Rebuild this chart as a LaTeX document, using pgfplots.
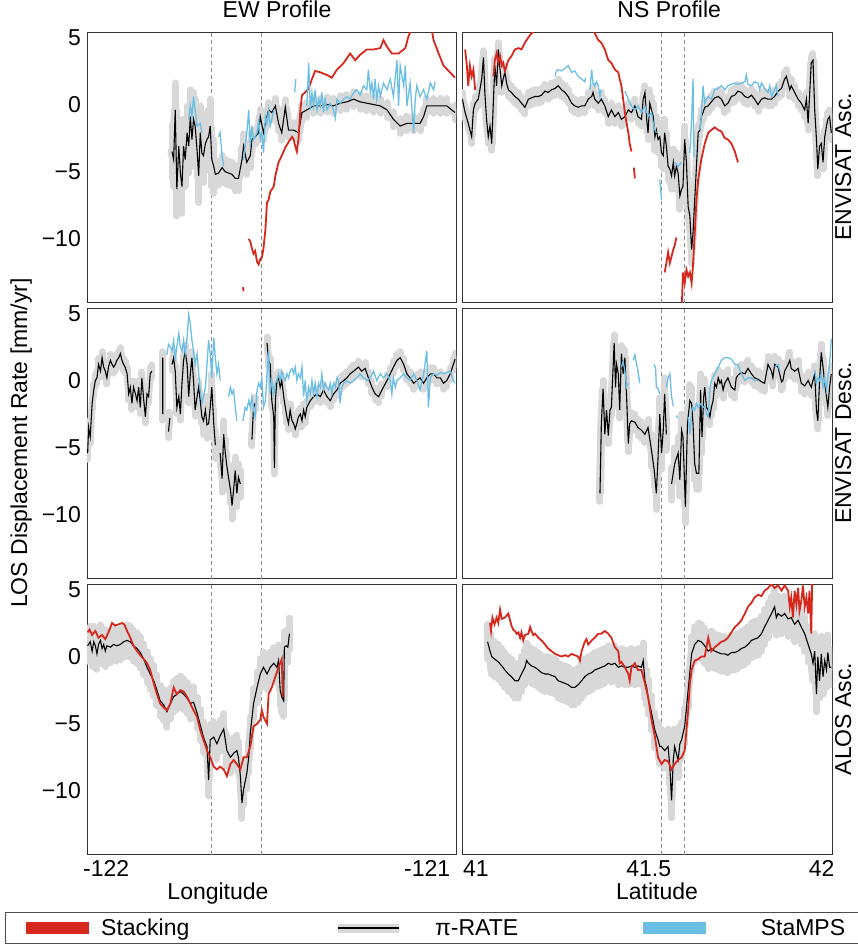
\documentclass[border=0pt]{standalone}
\usepackage{fontspec}
\setmainfont{Liberation Sans}
\usepackage{pgfplots}
\usepackage{pgfplotstable}
\pgfplotsset{compat=1.18}

\definecolor{stackred}{HTML}{D7281E}
\definecolor{stampsblue}{HTML}{6CBFE4}
\definecolor{bandgray}{HTML}{D8D8D8}
\definecolor{dashgray}{HTML}{8C8C8C}
\newcommand\figfont{\fontsize{23}{27}\selectfont}

% ---------- EW profile, ENVISAT ascending ----------
\pgfplotstableread{
x y
-121.795 -3.5
-121.790 -4.1
-121.785 -0.4
-121.780 -6.3
-121.774 -3.1
-121.769 -5.1
-121.764 -6.1
-121.759 -3.1
-121.754 -4.1
-121.748 -2.1
-121.743 -3.1
-121.738 -0.9
-121.733 -2.6
-121.728 -1.1
-121.723 -1.6
-121.717 -3.4
-121.712 -5.3
-121.707 -2.1
-121.702 -3.6
-121.697 -3.8
-121.691 -2.9
-121.686 -2.6
-121.681 -2.4
-121.676 -1.6
-121.671 -4.1
-121.665 -4.6
-121.660 -5.2
-121.650 -5.1
-121.639 -4.7
-121.629 -5.0
-121.619 -5.1
-121.608 -5.2
-121.598 -5.5
-121.588 -5.5
-121.577 -4.1
-121.572 -3.1
-121.562 -4.3
-121.551 -3.8
-121.546 -2.6
-121.536 -2.4
-121.525 -2.1
-121.520 -0.9
-121.510 -2.1
-121.499 -0.9
-121.494 -0.4
-121.484 -0.6
-121.473 -0.1
-121.463 -1.4
-121.453 -2.1
-121.442 -0.2
-121.432 -1.9
-121.416 -1.9
-121.401 -2.1
-121.390 -0.6
-121.375 -0.4
-121.354 -0.1
-121.333 -0.1
-121.312 0.0
-121.292 -0.1
-121.271 0.1
-121.250 0.2
-121.229 0.4
-121.209 0.2
-121.188 0.1
-121.167 0.0
-121.146 -0.1
-121.125 -0.4
-121.105 -1.1
-121.084 -1.6
-121.063 -1.4
-121.042 -1.4
-121.022 -1.4
-121.011 -0.9
-121.001 -0.1
-120.980 -0.1
-120.959 -0.1
-120.939 -0.1
-120.913 -0.6
}\ewascpi

\pgfplotstableread{
x y
-121.574 -13.6
-121.572 -13.9
nan nan
-121.556 -10.0
-121.551 -10.2
-121.546 -10.7
-121.541 -11.1
-121.536 -10.9
-121.530 -11.7
-121.525 -11.9
-121.520 -11.5
-121.515 -11.4
-121.510 -10.7
-121.504 -9.3
-121.499 -7.3
-121.494 -7.1
-121.489 -6.5
-121.478 -6.1
-121.473 -5.3
-121.468 -4.8
-121.463 -4.3
-121.453 -3.8
-121.442 -3.2
-121.432 -2.8
-121.421 -2.4
-121.416 -2.6
-121.411 -3.1
-121.406 -3.5
-121.401 -2.6
-121.395 -0.4
-121.390 0.7
-121.380 0.9
-121.369 1.2
-121.359 1.9
-121.349 2.5
-121.333 2.4
-121.312 2.2
-121.297 2.0
-121.281 2.6
-121.260 3.1
-121.240 3.8
-121.224 3.3
-121.209 3.7
-121.188 4.1
-121.167 4.1
-121.146 4.2
-121.136 4.8
-121.125 4.3
-121.110 3.8
-121.089 3.8
-121.068 4.2
-121.058 5.1
-121.048 5.6
-121.030 6.5
-121.000 6.5
-120.985 5.5
-120.980 4.8
-120.964 3.8
-120.949 2.9
-120.933 2.5
-120.913 2.0
}\ewascstack

\pgfplotstableread{
x y
-121.743 -1.1
-121.738 -0.1
-121.733 -0.9
-121.728 0.6
-121.723 -0.4
-121.717 -1.6
-121.707 -1.4
-121.702 -2.1
nan nan
-121.650 -2.4
-121.645 -2.1
-121.639 -3.8
-121.634 -4.6
nan nan
-121.572 -4.1
-121.562 -2.1
-121.556 -0.4
-121.551 -3.1
-121.546 -1.6
-121.541 -2.6
-121.530 -2.1
-121.525 -1.1
-121.520 -2.6
-121.515 -2.1
-121.510 -3.6
-121.504 -0.9
-121.499 -1.4
-121.494 -0.4
-121.489 -1.6
-121.484 -1.1
-121.478 -0.4
nan nan
-121.413 0.9
-121.409 1.9
nan nan
-121.375 -0.1
-121.369 3.1
-121.364 -0.4
-121.359 0.9
-121.354 -0.1
-121.349 1.1
-121.343 -0.4
-121.338 0.4
-121.333 -0.1
-121.328 0.9
-121.323 -0.6
-121.318 0.4
-121.312 -0.4
-121.302 0.1
-121.292 -0.4
-121.286 -1.0
-121.281 0.4
-121.271 0.1
-121.260 0.4
-121.250 0.6
-121.240 0.4
-121.229 0.9
-121.219 1.1
-121.209 0.7
-121.198 1.4
-121.188 1.1
-121.183 2.6
-121.177 0.9
-121.172 1.6
-121.167 0.4
-121.162 1.9
-121.157 0.4
-121.151 1.4
-121.146 0.6
-121.136 1.6
-121.125 1.1
-121.115 1.9
-121.105 0.6
-121.094 3.3
-121.089 -0.1
-121.084 2.9
-121.073 1.4
-121.068 2.9
-121.063 -0.1
-121.053 1.6
-121.048 -0.1
-121.042 -2.1
-121.037 0.4
-121.032 1.4
-121.022 0.6
-121.011 1.1
-121.001 0.4
-120.990 1.6
-120.980 1.1
-120.975 1.7
}\ewascstamps

% ---------- EW profile, ENVISAT descending ----------
\pgfplotstableread{
x y
-122.058 -5.4
-122.055 -3.5
-122.050 -4.2
-122.044 -1.7
-122.039 -0.7
-122.034 0.0
-122.029 0.2
-122.024 1.2
-122.018 0.7
-122.013 1.7
-122.008 1.0
-122.003 0.7
-121.998 0.2
-121.993 1.0
-121.987 1.5
-121.982 1.2
-121.977 1.0
-121.972 1.2
-121.967 1.5
-121.961 1.7
-121.956 2.0
-121.951 1.5
-121.946 1.2
-121.941 1.0
-121.935 0.5
-121.930 -1.0
-121.925 -0.5
-121.920 -1.7
-121.915 -0.5
-121.909 -1.0
-121.904 -1.5
-121.899 -0.5
-121.894 -2.0
-121.889 0.2
-121.883 -1.5
-121.878 -2.7
-121.873 -1.0
-121.868 -1.2
-121.863 0.5
-121.858 0.7
nan nan
-121.824 1.7
-121.824 -2.5
nan nan
-121.806 -3.8
-121.802 -2.8
nan nan
-121.795 1.2
-121.790 1.7
-121.785 0.7
-121.780 -2.0
-121.774 -1.2
-121.769 -2.5
-121.764 -0.2
-121.759 1.5
-121.754 2.2
-121.748 1.2
-121.743 -1.2
-121.738 0.5
-121.733 1.7
-121.728 0.0
-121.723 -2.2
-121.717 -1.2
-121.712 -0.5
-121.707 -1.5
-121.702 -2.7
-121.697 -3.0
-121.691 -2.2
-121.686 -3.3
-121.681 -3.2
-121.676 -2.0
-121.671 -0.5
-121.665 -3.2
-121.660 -4.8
nan nan
-121.645 -5.4
-121.639 -7.3
-121.634 -4.0
-121.629 -5.4
-121.624 -6.4
-121.619 -7.2
-121.613 -8.1
-121.608 -9.3
-121.603 -8.1
-121.598 -6.7
-121.593 -8.4
-121.588 -7.2
-121.582 -7.7
nan nan
-121.546 -4.4
-121.541 -2.0
-121.536 -1.7
nan nan
-121.499 2.8
-121.494 1.5
-121.489 1.2
-121.484 -1.5
-121.478 -2.7
-121.476 -6.5
-121.473 -1.5
-121.468 0.0
-121.463 0.2
-121.458 -0.5
-121.453 0.0
-121.447 -1.2
-121.442 -2.0
-121.437 -2.7
-121.432 -3.2
-121.427 -2.2
-121.421 -3.0
-121.416 -3.2
-121.411 -3.6
-121.406 -3.2
-121.401 -2.7
-121.395 -2.5
-121.390 -3.0
-121.385 -2.2
-121.380 -2.7
-121.375 -2.0
-121.364 -1.5
-121.354 -1.2
-121.343 -1.0
-121.333 -1.2
-121.323 -0.7
-121.312 -1.2
-121.302 -1.5
-121.292 -1.0
-121.281 -0.7
-121.271 -0.2
-121.260 0.0
-121.250 0.2
-121.240 0.5
-121.229 0.7
-121.214 1.0
-121.204 0.7
-121.193 0.9
-121.183 0.2
-121.172 -0.5
-121.162 -1.0
-121.151 -1.2
-121.141 -0.7
-121.125 0.0
-121.115 0.5
-121.105 1.0
-121.094 1.5
-121.084 1.7
-121.073 1.2
-121.063 0.5
-121.053 0.2
-121.042 -0.2
-121.032 0.0
-121.022 0.2
-121.011 -0.2
-121.001 0.2
-120.990 0.5
-120.980 0.5
-120.970 0.2
-120.959 0.2
-120.949 -0.2
-120.939 0.0
-120.928 0.5
-120.918 1.2
-120.913 1.6
}\ewdescpi

\pgfplotstableread{
x y
-121.811 1.9
-121.806 2.7
-121.800 2.5
-121.795 2.2
-121.790 3.0
-121.785 1.7
-121.780 2.5
-121.774 3.5
-121.769 2.5
-121.764 2.2
-121.759 3.0
-121.754 2.0
-121.748 3.2
-121.743 4.9
-121.738 4.2
-121.733 3.0
-121.728 2.2
-121.723 1.2
-121.717 2.0
-121.712 0.5
-121.707 -0.7
-121.702 -1.7
-121.697 -1.2
-121.691 -0.5
-121.686 1.2
-121.681 3.0
-121.676 2.0
-121.671 0.2
-121.665 3.2
-121.660 1.7
-121.655 0.5
-121.650 1.2
-121.645 0.0
nan nan
-121.619 -1.2
-121.613 -0.5
-121.608 -1.0
-121.603 -0.7
-121.598 -2.0
-121.593 -3.0
nan nan
-121.574 -3.0
-121.567 -2.0
-121.562 -2.2
-121.556 -1.5
-121.551 -2.0
-121.546 -1.2
-121.541 -2.2
-121.536 -2.7
-121.530 -0.7
-121.525 -0.2
-121.520 -0.5
-121.515 0.2
-121.510 -2.0
-121.504 -1.5
-121.499 0.5
-121.494 2.2
-121.489 -1.0
-121.484 0.0
-121.478 -1.0
-121.473 -0.2
-121.468 0.0
-121.463 0.5
-121.458 0.0
-121.453 0.7
-121.447 0.2
-121.442 0.0
-121.437 0.5
-121.432 0.2
-121.427 0.7
-121.421 0.9
-121.416 0.5
-121.411 1.0
-121.406 0.0
-121.401 0.5
-121.395 0.2
-121.390 1.0
-121.385 -1.2
-121.380 0.0
-121.375 -1.5
-121.369 -0.5
-121.364 -1.0
-121.359 0.0
-121.354 -1.0
-121.349 -0.2
-121.343 -1.2
-121.338 -0.2
-121.333 -0.5
-121.328 0.5
-121.323 -0.7
-121.318 -0.2
-121.312 -0.5
-121.307 -0.7
-121.302 -0.2
-121.297 -1.0
-121.292 -0.2
-121.286 -0.5
-121.281 0.2
-121.276 0.0
-121.271 -1.7
-121.266 -0.5
-121.260 -0.2
-121.250 0.0
-121.240 -0.2
-121.229 0.0
-121.219 0.2
-121.209 0.5
-121.198 0.2
-121.188 0.0
-121.177 0.2
-121.167 0.7
-121.157 0.0
-121.146 0.5
-121.136 0.2
-121.125 0.5
-121.115 0.0
-121.110 -1.0
-121.105 0.2
-121.099 -0.5
-121.094 0.0
-121.084 0.2
-121.073 0.5
-121.063 0.2
-121.053 0.0
-121.042 0.5
-121.032 0.0
-121.022 -0.7
-121.011 0.5
-121.001 2.2
-120.996 -2.0
-120.990 0.2
-120.980 0.5
-120.970 0.4
-120.959 0.6
-120.949 0.5
-120.939 0.6
-120.928 0.7
-120.918 0.0
-120.913 -0.2
}\ewdescstamps

% ---------- EW profile, ALOS ascending ----------
\pgfplotstableread{
x y
-122.058 0.8
-122.050 1.1
-122.044 0.4
-122.039 1.1
-122.034 0.8
-122.029 0.2
-122.024 0.9
-122.018 1.2
-122.013 0.6
-122.008 0.9
-122.003 0.4
-121.998 0.8
-121.987 0.7
-121.977 0.9
-121.967 0.8
-121.956 0.9
-121.946 1.1
-121.935 1.2
-121.925 1.1
-121.915 0.8
-121.904 0.6
-121.894 0.3
-121.883 -0.2
-121.873 -0.8
-121.863 -1.3
-121.852 -1.8
-121.842 -2.5
-121.832 -3.3
-121.821 -3.6
-121.811 -4.1
-121.800 -3.5
-121.790 -3.0
-121.780 -2.8
-121.769 -2.6
-121.759 -2.8
-121.748 -3.1
-121.738 -3.5
-121.728 -3.4
-121.717 -4.2
-121.707 -5.1
-121.697 -6.0
-121.686 -6.7
-121.681 -9.2
-121.676 -6.2
-121.665 -6.0
-121.655 -6.5
-121.645 -5.9
-121.634 -5.4
-121.624 -7.0
-121.613 -7.5
-121.603 -7.2
-121.593 -7.0
-121.588 -7.5
-121.582 -8.9
-121.577 -10.9
-121.572 -9.9
-121.562 -8.7
-121.556 -7.5
-121.551 -5.7
-121.541 -3.5
-121.530 -2.3
-121.520 -1.3
-121.510 -0.8
-121.499 -1.3
-121.489 -0.8
-121.478 -0.5
-121.468 -0.8
-121.463 -0.3
-121.458 -2.5
-121.453 -3.0
-121.447 -3.3
-121.445 0.7
-121.439 0.8
-121.434 0.7
-121.429 1.7
}\ewalospi

\pgfplotstableread{
x y
-122.058 1.8
-122.052 2.0
-122.044 1.6
-122.034 1.9
-122.024 1.4
-122.013 1.6
-122.003 1.3
-121.993 1.8
-121.982 2.5
-121.972 2.3
-121.961 2.4
-121.951 2.5
-121.944 2.4
-121.935 1.9
-121.925 1.4
-121.915 0.8
-121.904 0.4
-121.894 0.1
-121.883 -0.2
-121.873 -0.5
-121.863 -1.0
-121.852 -2.0
-121.842 -2.8
-121.832 -3.5
-121.821 -3.8
-121.811 -4.0
-121.800 -3.5
-121.790 -2.3
-121.780 -2.8
-121.769 -2.5
-121.759 -2.6
-121.748 -3.0
-121.738 -3.5
-121.728 -4.0
-121.717 -4.5
-121.707 -5.5
-121.697 -6.2
-121.686 -7.0
-121.676 -7.5
-121.665 -8.2
-121.655 -8.4
-121.645 -8.2
-121.634 -8.4
-121.624 -8.9
-121.613 -8.0
-121.603 -7.7
-121.593 -8.0
-121.582 -8.4
-121.572 -7.5
-121.562 -7.5
-121.551 -6.7
-121.541 -5.2
-121.530 -5.0
-121.520 -4.7
-121.515 -4.0
-121.510 -4.5
-121.499 -5.0
-121.494 -2.8
-121.484 -2.3
-121.473 -1.5
-121.463 -0.8
-121.453 -0.2
-121.450 -3.0
}\ewalosstack

% ---------- NS profile, ENVISAT ascending ----------
\pgfplotstableread{
x y
40.961 0.4
40.969 -0.6
40.978 -1.4
40.988 -2.4
40.993 -0.4
40.998 0.1
41.007 0.4
41.017 1.9
41.022 3.5
41.026 0.9
41.031 -1.1
41.036 -2.4
41.041 -1.6
41.046 -2.9
41.051 0.4
41.055 2.9
41.060 1.4
41.065 4.1
41.070 2.6
41.075 1.4
41.079 1.9
41.084 2.4
41.089 1.6
41.094 1.1
41.103 0.9
41.113 0.6
41.123 0.4
41.132 0.1
41.142 -0.2
41.152 0.4
41.161 0.5
41.171 0.6
41.181 0.6
41.190 0.7
41.200 1.0
41.209 0.9
41.219 1.1
41.229 1.2
41.238 1.4
41.248 1.1
41.258 0.9
41.267 0.6
41.277 0.1
41.286 -0.1
41.296 -0.2
41.306 -0.1
41.315 -0.1
41.325 0.4
41.335 0.6
41.339 0.9
41.344 0.4
41.354 0.1
41.363 0.4
41.373 -0.1
41.383 -0.9
41.392 -0.4
41.402 -0.9
41.412 -0.6
41.421 -1.1
41.431 -0.9
41.441 -0.4
41.450 -0.6
41.460 -0.1
41.469 -0.9
41.479 -1.1
41.484 0.4
41.489 0.9
41.494 -1.1
41.498 -2.1
41.503 0.1
41.508 -0.4
41.513 -0.9
41.518 -2.4
41.522 -1.9
41.527 -2.6
41.532 -2.4
41.537 -3.6
41.542 -3.8
41.546 -2.1
41.551 -3.1
41.556 -4.6
41.561 -4.8
41.566 -5.3
41.571 -4.3
41.575 -5.3
41.580 -4.6
41.585 -5.1
41.590 -6.8
41.595 -6.3
41.599 -6.1
41.604 -2.6
41.609 -4.3
41.614 -7.6
41.619 -8.3
41.624 -10.8
41.628 -9.6
41.633 -7.1
41.638 -4.6
41.643 -2.1
41.648 -1.9
41.652 -0.9
41.657 -0.6
41.662 -0.2
41.672 -0.1
41.681 0.2
41.691 0.5
41.701 0.6
41.710 0.4
41.720 -0.1
41.729 0.1
41.739 0.6
41.749 0.7
41.758 1.0
41.768 0.9
41.778 0.6
41.787 0.5
41.797 0.7
41.806 0.4
41.816 0.0
41.826 0.4
41.835 0.5
41.845 0.4
41.855 0.4
41.864 0.6
41.874 1.0
41.884 1.2
41.893 1.9
41.898 2.1
41.903 1.6
41.908 1.1
41.912 1.4
41.922 0.9
41.932 0.4
41.941 0.1
41.951 -0.4
41.956 0.4
41.961 -1.4
41.965 0.6
41.970 3.1
41.975 3.3
41.980 -0.4
41.985 -2.6
41.989 -4.8
41.994 -3.1
41.999 -2.9
42.004 -4.3
42.009 -2.4
42.014 -1.6
42.018 -1.1
42.023 -0.9
42.028 -2.1
}\nsascpi

\pgfplotstableread{
x y
40.969 4.1
40.974 2.9
40.978 1.4
40.983 2.9
40.988 2.1
40.993 2.6
40.998 1.1
nan nan
41.051 2.1
41.055 3.3
41.060 3.8
41.065 3.1
41.070 3.6
41.075 2.9
41.079 3.1
41.084 2.5
41.089 2.9
41.094 3.3
41.103 3.6
41.113 4.1
41.123 4.2
41.132 4.1
41.142 4.6
41.152 5.0
41.161 5.3
41.171 5.5
41.190 6.5
41.320 6.5
41.339 5.6
41.344 5.3
41.354 4.8
41.363 4.6
41.373 4.1
41.383 3.3
41.392 3.1
41.402 2.6
41.412 2.4
41.416 1.9
41.421 1.4
41.426 0.4
41.431 -0.6
41.436 -1.4
41.441 -2.1
41.445 -2.9
41.450 -3.5
nan nan
41.457 -4.7
41.460 -5.5
nan nan
41.546 -12.5
41.551 -11.8
41.556 -11.0
41.561 -11.8
41.566 -11.3
41.571 -10.8
41.575 -10.5
41.580 -9.9
nan nan
41.595 -15.5
41.599 -12.5
41.604 -13.3
41.609 -12.3
41.614 -12.8
41.619 -12.5
41.624 -13.3
41.628 -12.0
41.633 -9.6
41.638 -7.1
41.643 -5.6
41.652 -4.1
41.662 -2.9
41.672 -2.1
41.681 -1.9
41.691 -1.7
41.701 -1.9
41.710 -2.0
41.720 -2.5
41.729 -2.6
41.739 -2.9
41.749 -3.5
41.758 -4.3
}\nsascstack

\pgfplotstableread{
x y
41.229 2.1
41.233 2.5
41.238 2.6
41.248 2.5
41.258 2.7
41.267 2.9
41.277 2.4
41.286 2.5
41.296 2.1
41.306 1.9
41.315 1.7
41.318 2.0
nan nan
41.330 1.1
41.335 2.6
41.339 1.6
41.344 1.4
41.349 1.7
41.354 1.4
41.359 0.6
41.363 1.1
nan nan
41.431 1.0
41.441 0.4
41.450 -0.1
41.460 -0.4
41.469 -0.1
41.479 -0.6
41.489 -0.1
41.498 -0.9
41.508 -0.6
41.513 -1.4
41.518 -1.9
41.522 -2.1
nan nan
41.532 -5.6
41.537 -7.1
nan nan
41.575 -4.3
41.585 -4.6
41.595 -4.3
nan nan
41.619 -3.6
41.624 -1.1
41.628 1.9
41.631 -3.9
nan nan
41.648 -1.9
41.652 -0.9
41.657 1.4
41.662 0.1
41.667 0.4
41.672 0.6
41.681 0.4
41.691 1.1
41.701 1.2
41.710 1.4
41.720 1.1
41.729 1.4
41.739 1.5
41.749 1.6
41.758 1.5
41.768 1.6
41.778 1.7
41.782 2.2
41.787 1.5
41.797 1.4
41.806 1.7
41.816 1.6
41.821 1.1
41.826 1.6
41.835 1.2
41.845 0.9
41.850 1.4
41.855 0.6
41.864 1.1
41.869 1.4
41.874 0.6
}\nsascstamps

% ---------- NS profile, ENVISAT descending ----------
\pgfplotstableread{
x y
41.359 -8.4
41.363 -3.2
41.368 -0.6
41.373 -4.0
41.378 -2.2
41.383 -4.1
41.388 -2.2
41.392 -2.0
41.397 1.0
41.400 2.8
41.404 -0.5
41.407 1.2
41.412 0.5
41.416 -2.2
41.421 2.0
41.426 0.5
41.431 1.7
41.436 -1.2
41.441 -4.7
41.445 -3.2
41.450 -3.0
41.460 -3.1
41.469 -3.5
41.479 -3.7
41.489 -4.0
41.498 -3.5
41.508 -5.2
41.516 -6.7
41.522 -8.4
41.527 -5.7
41.532 -2.5
41.537 -5.4
41.542 -3.7
41.546 -1.0
41.551 -4.0
nan nan
41.566 -7.7
41.575 -6.2
41.585 -5.4
41.590 -7.4
41.595 -3.7
41.599 -4.2
41.606 -9.4
41.612 -3.2
41.619 -1.5
41.624 -1.7
41.628 -3.2
41.633 -6.2
41.638 -6.9
41.645 -6.9
41.650 -0.7
41.654 -4.2
41.659 -1.2
41.662 -0.5
41.667 -2.0
41.672 -2.2
41.677 -2.7
41.681 -2.0
41.686 -1.5
41.691 -0.2
41.696 -0.5
41.701 0.2
41.706 -0.2
41.710 0.0
41.715 -0.7
41.720 -0.2
41.729 0.2
41.739 -0.5
41.749 -0.7
41.753 0.2
41.758 0.4
41.768 0.6
41.778 0.5
41.787 0.9
41.797 0.5
41.806 0.2
41.816 0.1
41.826 -0.1
41.835 -0.2
41.845 1.2
41.855 0.7
41.859 0.2
41.864 1.2
41.874 1.0
41.884 -0.1
41.888 0.0
41.893 0.7
41.903 1.2
41.908 1.5
41.912 0.9
41.922 0.7
41.932 0.9
41.941 -0.2
41.951 -0.4
41.961 0.0
41.970 -0.5
41.980 0.5
41.985 -2.2
41.989 -3.0
41.994 0.0
41.999 2.1
42.004 1.0
42.009 -0.2
42.014 -1.2
42.018 -2.0
42.023 -0.5
42.028 0.5
}\nsdescpi

\pgfplotstableread{
x y
41.421 1.0
41.426 1.4
41.431 0.7
41.436 -0.5
41.441 -0.2
nan nan
41.455 1.5
41.460 1.9
41.465 1.2
41.469 0.7
41.474 -0.2
nan nan
41.516 1.2
41.520 0.9
41.522 -0.5
41.527 -0.6
41.532 -1.0
nan nan
41.551 -0.5
41.556 0.2
41.561 0.5
41.566 -1.2
41.571 -1.9
nan nan
41.580 -2.6
41.583 -2.8
nan nan
41.614 -2.7
41.619 -4.0
41.624 -2.2
41.628 -2.0
41.633 -2.2
41.638 -1.7
41.643 -2.0
41.652 -1.7
41.657 -2.0
41.662 -1.9
41.667 -2.5
41.672 -2.7
41.677 -0.5
41.681 0.0
41.691 0.5
41.701 1.0
41.710 1.5
41.720 1.7
41.729 1.7
41.739 1.6
41.749 1.2
41.758 1.2
41.768 0.5
41.778 0.0
41.787 0.2
41.797 0.2
41.806 0.0
41.816 0.0
nan nan
41.864 1.0
41.874 1.2
41.879 0.7
nan nan
41.980 0.7
41.985 -0.2
41.989 0.2
41.994 0.0
41.999 0.5
42.004 -0.5
42.009 0.2
42.014 -0.7
42.018 0.2
42.023 1.2
42.028 3.1
}\nsdescstamps

% ---------- NS profile, ALOS ascending ----------
\pgfplotstableread{
x y
41.034 1.1
41.041 0.4
41.046 0.0
41.055 -0.2
41.065 -0.4
41.075 -0.7
41.084 -1.0
41.094 -1.3
41.103 -1.5
41.113 -1.8
41.123 -1.8
41.132 -1.3
41.142 -0.8
41.147 -0.3
41.152 -0.5
41.161 -0.7
41.171 -0.8
41.181 -1.0
41.190 -1.2
41.200 -1.3
41.209 -1.3
41.219 -1.4
41.229 -1.5
41.238 -1.8
41.248 -1.9
41.258 -2.0
41.267 -2.1
41.277 -2.3
41.286 -2.3
41.296 -2.1
41.306 -1.8
41.315 -1.5
41.325 -1.3
41.335 -1.2
41.344 -1.0
41.354 -0.9
41.363 -0.8
41.373 -0.7
41.383 -0.5
41.392 -0.6
41.402 -0.5
41.412 -0.8
41.421 -0.7
41.431 -0.8
41.441 -0.8
41.450 -0.7
41.460 -0.8
41.469 -0.7
41.479 -0.8
41.484 -0.3
41.489 -1.8
41.494 -2.3
41.498 -3.0
41.508 -4.2
41.518 -5.5
41.527 -6.2
41.532 -6.7
41.537 -6.7
41.546 -7.0
41.556 -6.7
41.561 -8.2
41.566 -10.7
41.571 -7.7
41.575 -6.7
41.580 -7.2
41.585 -7.7
41.590 -6.5
41.595 -6.2
41.604 -5.2
41.614 -2.5
41.624 0.2
41.633 0.9
41.643 1.2
41.652 1.1
41.662 0.8
41.672 0.4
41.681 0.6
41.691 0.4
41.701 0.3
41.710 0.2
41.720 0.2
41.729 0.1
41.739 0.3
41.749 0.3
41.758 0.4
41.768 0.6
41.778 0.7
41.787 0.9
41.797 1.2
41.806 1.3
41.816 1.4
41.826 1.7
41.835 2.2
41.845 2.7
41.855 3.2
41.864 3.7
41.869 2.9
41.874 3.2
41.884 3.0
41.893 3.2
41.903 2.8
41.912 2.9
41.922 2.4
41.932 2.7
41.941 2.2
41.951 1.7
41.961 0.9
41.970 0.2
41.975 -0.5
41.980 0.4
41.985 -2.8
41.989 0.0
41.994 -1.8
41.999 0.2
42.004 -1.5
42.009 -0.3
42.014 -1.0
42.018 0.3
42.023 -0.8
42.028 -0.8
}\nsalospi

\pgfplotstableread{
x y
41.041 2.5
41.044 1.9
41.048 2.9
41.054 2.4
41.060 2.9
41.065 2.5
41.070 3.5
41.075 2.8
41.084 2.9
41.094 3.2
41.099 2.7
41.103 2.3
41.108 2.0
41.113 1.9
41.118 1.7
41.123 1.8
41.128 1.4
41.132 1.8
41.137 1.2
41.142 1.6
41.152 1.7
41.157 2.2
41.161 1.9
41.166 1.6
41.171 1.7
41.181 1.4
41.190 1.2
41.200 0.9
41.209 0.6
41.219 0.4
41.229 0.2
41.238 0.1
41.248 0.0
41.258 0.1
41.267 0.0
41.277 0.2
41.286 0.1
41.296 0.0
41.301 -0.3
41.306 0.4
41.315 1.1
41.320 1.3
41.325 0.9
41.335 1.2
41.344 1.4
41.354 1.7
41.363 1.7
41.373 1.9
41.383 1.7
41.392 1.4
41.402 0.7
41.412 0.4
41.416 -0.5
41.421 -0.4
41.431 -0.8
41.441 -1.3
41.445 -1.8
41.450 -0.8
41.460 -0.5
41.469 -1.0
41.479 -1.0
41.489 -2.0
41.498 -3.0
41.508 -4.7
41.518 -6.0
41.527 -7.5
41.537 -8.0
41.546 -7.7
41.556 -7.8
41.566 -8.4
41.575 -8.0
41.585 -7.7
41.595 -7.5
41.604 -7.0
41.614 -4.0
41.619 -2.0
41.624 -1.0
41.633 -0.3
41.643 -0.2
41.652 0.0
41.662 0.0
41.672 1.4
41.681 0.4
41.691 0.7
41.701 0.9
41.710 1.1
41.720 1.2
41.729 1.4
41.739 1.8
41.749 2.2
41.758 2.4
41.768 2.7
41.778 3.2
41.787 3.7
41.797 4.0
41.806 4.4
41.816 4.6
41.826 4.5
41.835 4.9
41.845 5.1
41.855 5.4
41.864 5.1
41.874 5.3
41.884 4.9
41.893 5.3
41.903 4.9
41.908 3.7
41.912 4.4
41.917 2.9
41.922 4.9
41.927 3.9
41.932 5.1
41.936 3.4
41.941 4.1
41.946 5.3
41.951 3.7
41.956 4.4
41.961 3.2
41.965 4.9
41.970 1.7
41.973 6.0
}\nsalosstack

\pgfplotsset{
  panel/.style={
    scale only axis, width=369pt, height=270pt,
    anchor=north west,
    ymin=-14.7, ymax=5.4,
    ytick={-10,-5,0,5}, yticklabels={},
    xticklabels={},
    axis line style={black!80, line width=0.9pt},
    major tick length=0pt, tick style={draw=none},
    unbounded coords=jump,
    tick label style={font=\figfont},
    label style={font=\figfont},
    title style={font=\figfont},
    xticklabel style={inner sep=0pt, yshift=-6pt},
    yticklabel style={inner sep=0pt, xshift=-6pt},
  },
  ew/.style={xmin=-122.06, xmax=-120.91, xtick={-122,-121}},
  ns/.style={width=370pt, xmin=40.96, xmax=42.03, xtick={41,41.5,42}},
  leftcol/.style={yticklabels={−10,−5,0,5}},
  sidelabel/.style={ylabel={#1}, ylabel style={at={(rel axis cs:1.008,0.5)}, anchor=north, inner sep=0pt}},
  % uncertainty band of pi-RATE: gray line plus vertical +-sigma bars
  band/.style={forget plot, draw=bandgray, line width=#1, line join=round, line cap=round},
  unc/.style={/pgfplots/error bars/y dir=both, /pgfplots/error bars/y fixed=#1,
    /pgfplots/error bars/error mark=none,
    /pgfplots/error bars/error bar style={line width=7pt, draw=bandgray, solid}},
  pirate/.style={black, line width=1.1pt, forget plot},
  stack/.style={stackred, line width=1.8pt, forget plot},
  stamps/.style={stampsblue, line width=1.3pt, forget plot},
  vline/.style={dashgray, line width=0.9pt, dash pattern=on 4pt off 3pt, forget plot},
}

\begin{document}
\begin{tikzpicture}
\path[use as bounding box] (0pt,0pt) rectangle (858pt,-948pt);

% ===== row 1: ENVISAT Asc. =====
\begin{axis}[panel, ew, leftcol, at={(87pt,-32pt)},
  title={EW Profile}, title style={at={(rel axis cs:0.515,1)}, anchor=base, yshift=9pt, inner sep=0pt}]
  \addplot[vline] coordinates {(-121.672,-20) (-121.672,10)};
  \addplot[vline] coordinates {(-121.517,-20) (-121.517,10)};
  \addplot[band=3pt, draw=none, restrict x to domain=-121.80:-121.665, unc=2.0] table[x=x,y=y]{\ewascpi};
  \addplot[band=3pt, draw=none, restrict x to domain=-121.665:-121.55, unc=0.9] table[x=x,y=y]{\ewascpi};
  \addplot[band=9pt, unc=0.55] table[x=x,y=y]{\ewascpi};
  \addplot[pirate] table[x=x,y=y]{\ewascpi};
  \addplot[stack] table[x=x,y=y]{\ewascstack};
  \addplot[stamps] table[x=x,y=y]{\ewascstamps};
\end{axis}

\begin{axis}[panel, ns, at={(462pt,-32pt)}, sidelabel={ENVISAT Asc.},
  title={NS Profile}, title style={at={(rel axis cs:0.56,1)}, anchor=base, yshift=9pt, inner sep=0pt}]
  \addplot[vline] coordinates {(41.537,-20) (41.537,10)};
  \addplot[vline] coordinates {(41.604,-20) (41.604,10)};
  \addplot[band=3pt, draw=none, restrict x to domain=41.50:41.64, unc=1.0] table[x=x,y=y]{\nsascpi};
  \addplot[band=8pt, unc=0.5] table[x=x,y=y]{\nsascpi};
  \addplot[pirate] table[x=x,y=y]{\nsascpi};
  \addplot[stack] table[x=x,y=y]{\nsascstack};
  \addplot[stamps] table[x=x,y=y]{\nsascstamps};
\end{axis}

% ===== row 2: ENVISAT Desc. =====
\begin{axis}[panel, ew, leftcol, at={(87pt,-308pt)},
  ylabel={LOS Displacement Rate [mm/yr]},
  ylabel style={at={(rel axis cs:-0.149,0.5)}, anchor=south, inner sep=0pt}]
  \addplot[vline] coordinates {(-121.672,-20) (-121.672,10)};
  \addplot[vline] coordinates {(-121.517,-20) (-121.517,10)};
  \addplot[band=3pt, draw=none, restrict x to domain=-121.70:-121.55, unc=1.0] table[x=x,y=y]{\ewdescpi};
  \addplot[band=7pt, unc=0.45] table[x=x,y=y]{\ewdescpi};
  \addplot[pirate] table[x=x,y=y]{\ewdescpi};
  \addplot[stamps] table[x=x,y=y]{\ewdescstamps};
\end{axis}

\begin{axis}[panel, ns, at={(462pt,-308pt)}, sidelabel={ENVISAT Desc.}]
  \addplot[vline] coordinates {(41.537,-20) (41.537,10)};
  \addplot[vline] coordinates {(41.604,-20) (41.604,10)};
  \addplot[band=3pt, draw=none, restrict x to domain=41.50:41.66, unc=1.2] table[x=x,y=y]{\nsdescpi};
  \addplot[band=8pt, unc=0.6] table[x=x,y=y]{\nsdescpi};
  \addplot[pirate] table[x=x,y=y]{\nsdescpi};
  \addplot[stamps] table[x=x,y=y]{\nsdescstamps};
\end{axis}

% ===== row 3: ALOS Asc. =====
\begin{axis}[panel, ew, leftcol, at={(87pt,-584pt)},
  xticklabels={-122,-121},
  xlabel={Longitude},
  xlabel style={at={(rel axis cs:0.355,0)}, anchor=north, inner sep=0pt, yshift=-29pt},
  legend columns=3,
  legend style={at={(-0.2222,-0.2148)}, anchor=north west,
    draw=black!70, line width=0.8pt, inner xsep=21pt, inner ysep=6.5pt,
    font=\figfont, cells={anchor=west}, nodes={inner sep=0pt},
    /tikz/every even column/.append style={column sep=0pt},
    /tikz/every odd column/.append style={column sep=0pt}}]
  \addplot[vline] coordinates {(-121.672,-20) (-121.672,10)};
  \addplot[vline] coordinates {(-121.517,-20) (-121.517,10)};
  \addplot[band=8pt, unc=1.15] table[x=x,y=y]{\ewalospi};
  \addplot[pirate] table[x=x,y=y]{\ewalospi};
  \addplot[stack] table[x=x,y=y]{\ewalosstack};
  \addlegendimage{legend image code/.code={\fill[stackred] (0pt,-5.5pt) rectangle (62pt,5.5pt);}}
  \addlegendentry{\makebox[249pt][l]{\hspace*{12pt}Stacking}}
  \addlegendimage{legend image code/.code={\fill[bandgray] (0pt,-4pt) rectangle (60pt,4pt); \fill[black] (0pt,-0.7pt) rectangle (60pt,0.7pt);}}
  \addlegendentry{\makebox[244pt][l]{\hspace*{36pt}π-RATE}}
  \addlegendimage{legend image code/.code={\fill[stampsblue] (0pt,-5.5pt) rectangle (62pt,5.5pt);}}
  \addlegendentry{\makebox[133pt][l]{\hspace*{55pt}StaMPS}}
\end{axis}

\begin{axis}[panel, ns, at={(462pt,-584pt)}, sidelabel={ALOS Asc.},
  xticklabels={41,41.5,42},
  xlabel={Latitude},
  xlabel style={at={(rel axis cs:0.527,0)}, anchor=north, inner sep=0pt, yshift=-29pt}]
  \addplot[vline] coordinates {(41.537,-20) (41.537,10)};
  \addplot[vline] coordinates {(41.604,-20) (41.604,10)};
  \addplot[band=8pt, unc=1.3] table[x=x,y=y]{\nsalospi};
  \addplot[pirate] table[x=x,y=y]{\nsalospi};
  \addplot[stack] table[x=x,y=y]{\nsalosstack};
\end{axis}
\end{tikzpicture}
\end{document}
